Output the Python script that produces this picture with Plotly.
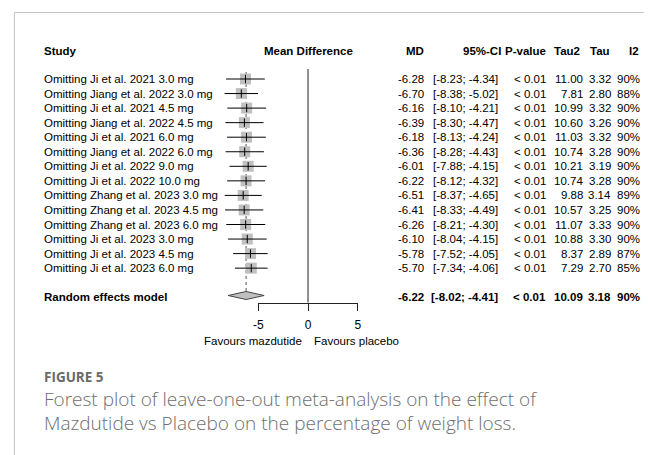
import plotly.graph_objects as go

# ---------------- data ----------------
studies = [
    "Omitting Ji et al. 2021 3.0 mg",
    "Omitting Jiang et al. 2022 3.0 mg",
    "Omitting Ji et al. 2021 4.5 mg",
    "Omitting Jiang et al. 2022 4.5 mg",
    "Omitting Ji et al. 2021 6.0 mg",
    "Omitting Jiang et al. 2022 6.0 mg",
    "Omitting Ji et al. 2022 9.0 mg",
    "Omitting Ji et al. 2022 10.0 mg",
    "Omitting Zhang et al. 2023 3.0 mg",
    "Omitting Zhang et al. 2023 4.5 mg",
    "Omitting Zhang et al. 2023 6.0 mg",
    "Omitting Ji et al. 2023 3.0 mg",
    "Omitting Ji et al. 2023 4.5 mg",
    "Omitting Ji et al. 2023 6.0 mg",
]
md = [-6.28, -6.70, -6.16, -6.39, -6.18, -6.36, -6.01, -6.22, -6.51, -6.41, -6.26, -6.10, -5.78, -5.70]
ci_low = [-8.23, -8.38, -8.10, -8.30, -8.13, -8.28, -7.88, -8.12, -8.37, -8.33, -8.21, -8.04, -7.52, -7.34]
ci_high = [-4.34, -5.02, -4.21, -4.47, -4.24, -4.43, -4.15, -4.32, -4.65, -4.49, -4.30, -4.15, -4.05, -4.06]
p_values = ["< 0.01"] * 14
tau2 = [11.00, 7.81, 10.99, 10.60, 11.03, 10.74, 10.21, 10.74, 9.88, 10.57, 11.07, 10.88, 8.37, 7.29]
tau = [3.32, 2.80, 3.32, 3.26, 3.32, 3.28, 3.19, 3.28, 3.14, 3.25, 3.33, 3.30, 2.89, 2.70]
i2 = [90, 88, 90, 90, 90, 90, 90, 90, 89, 90, 90, 90, 87, 85]

re_label = "Random effects model"
re_md, re_low, re_high = -6.22, -8.02, -4.41
re_p, re_tau2, re_tau, re_i2 = "< 0.01", 10.09, 3.18, 90

x_ticks = [-5, 0, 5]
fav_left = "Favours mazdutide"
fav_right = "Favours placebo"
headers = ["Study", "Mean Difference", "MD", "95%-CI", "P-value", "Tau2", "Tau", "I2"]
caption_title = "FIGURE 5"
caption_lines = ["Forest plot of leave-one-out meta-analysis on the effect of",
                 "Mazdutide vs Placebo on the percentage of weight loss."]

# ---------------- layout geometry (pixels) ----------------
W, H = 648, 455
ZERO_PX = 307.3
PX_PER_UNIT = 10.1
ROW0, ROW_STEP = 79.0, 14.55
RE_Y = 295.5
HEAD_Y = 51.0
AXIS_Y = 302.5

FONT = "Liberation Sans, Arial, sans-serif"
FS = 11.5
BLACK = "#000000"

def xdata(px):
    return (px - ZERO_PX) / PX_PER_UNIT

def pxp(px):
    return px / W

row_y = [ROW0 + ROW_STEP * i for i in range(len(studies))]

fig = go.Figure()

# dotted pooled-effect line
fig.add_trace(go.Scatter(x=[re_md, re_md], y=[72, RE_Y - 4], mode="lines",
                         line=dict(color="#555555", width=1, dash="dot"),
                         hoverinfo="skip", showlegend=False))
# zero line
fig.add_trace(go.Scatter(x=[0, 0], y=[69, AXIS_Y], mode="lines",
                         line=dict(color="#222222", width=1),
                         hoverinfo="skip", showlegend=False))

# squares
fig.add_trace(go.Scatter(x=md, y=row_y, mode="markers",
                         marker=dict(symbol="square", size=11, color="#c0c0c0",
                                     line=dict(width=0)),
                         hoverinfo="skip", showlegend=False))
# CI lines
cx, cy = [], []
for lo, hi, y in zip(ci_low, ci_high, row_y):
    cx += [lo, hi, None]
    cy += [y, y, None]
fig.add_trace(go.Scatter(x=cx, y=cy, mode="lines", line=dict(color=BLACK, width=1),
                         hoverinfo="skip", showlegend=False))
# estimate ticks
fig.add_trace(go.Scatter(x=md, y=row_y, mode="markers",
                         marker=dict(symbol="line-ns", size=6,
                                     line=dict(width=1, color=BLACK)),
                         hoverinfo="skip", showlegend=False))
# diamond
fig.add_trace(go.Scatter(x=[re_low, re_md, re_high, re_md, re_low],
                         y=[RE_Y, RE_Y - 4, RE_Y, RE_Y + 4, RE_Y],
                         mode="lines", fill="toself", fillcolor="#c0c0c0",
                         line=dict(color="#444444", width=1),
                         hoverinfo="skip", showlegend=False))

# page border (top and left edges of the figure frame)
fig.add_trace(go.Scatter(x=[xdata(W + 5), xdata(9.5), xdata(9.5)], y=[12.5, 12.5, H + 5],
                         mode="lines", line=dict(color="#c4c4c4", width=1),
                         hoverinfo="skip", showlegend=False, cliponaxis=False))

ann = []
def txt(x, y, s, anchor="left", bold=False, size=FS, color=BLACK, family=FONT, weight=None):
    f = dict(family=family, size=size, color=color)
    if weight is not None:
        f["weight"] = weight
    ann.append(dict(x=pxp(x), y=y, xref="paper", yref="y", text=("<b>%s</b>" % s) if bold else s,
                    showarrow=False, xanchor=anchor, yanchor="middle", font=f,
                    borderpad=0, borderwidth=0))

# headers
txt(40, HEAD_Y, headers[0], bold=True)
txt(ZERO_PX, HEAD_Y, headers[1], anchor="center", bold=True)
txt(425, HEAD_Y, headers[2], anchor="right", bold=True)
txt(503, HEAD_Y, headers[3], anchor="right", bold=True)
txt(548.5, HEAD_Y, headers[4], anchor="right", bold=True)
txt(583.5, HEAD_Y, headers[5], anchor="right", bold=True)
txt(613.5, HEAD_Y, headers[6], anchor="right", bold=True)
txt(643, HEAD_Y, headers[7], anchor="right", bold=True)

def row_text(y, name, m, lo, hi, p, t2, t, i, bold=False):
    txt(40, y, name, bold=bold)
    txt(425, y, "%.2f" % m, anchor="right", bold=bold)
    txt(499.5, y, "[%.2f; %.2f]" % (lo, hi), anchor="right", bold=bold)
    txt(548.5, y, p, anchor="right", bold=bold)
    txt(586.5, y, "%.2f" % t2, anchor="right", bold=bold)
    txt(614.5, y, "%.2f" % t, anchor="right", bold=bold)
    txt(643.5, y, "%d%%" % i, anchor="right", bold=bold)

for k in range(len(studies)):
    row_text(row_y[k], studies[k], md[k], ci_low[k], ci_high[k], p_values[k],
             tau2[k], tau[k], i2[k])
row_text(RE_Y + 1, re_label, re_md, re_low, re_high, re_p, re_tau2, re_tau, re_i2, bold=True)

# favours labels
txt(ZERO_PX - 6.5, 341, fav_left, anchor="right")
txt(ZERO_PX + 6, 341, fav_right, anchor="left")

# caption
GREY = "#6e6e6e"
txt(40, 377, caption_title, size=13.5, color="#6a6a6a", family="Open Sans, sans-serif", bold=True)
txt(40, 399, caption_lines[0], size=19, color=GREY, family="Open Sans, sans-serif", weight=300)
txt(40, 423, caption_lines[1], size=19, color=GREY, family="Open Sans, sans-serif", weight=300)

fig.update_layout(
    width=W, height=H, margin=dict(l=0, r=0, t=0, b=0),
    paper_bgcolor="white", plot_bgcolor="rgba(0,0,0,0)",
    xaxis=dict(range=[xdata(0), xdata(W)], visible=False, domain=[0, 1], fixedrange=True),
    xaxis2=dict(range=[x_ticks[0], x_ticks[-1]], anchor="free",
                domain=[pxp(ZERO_PX + x_ticks[0] * PX_PER_UNIT), pxp(ZERO_PX + x_ticks[-1] * PX_PER_UNIT)],
                position=1 - AXIS_Y / H, side="bottom",
                tickvals=x_ticks, ticktext=["%d" % v for v in x_ticks],
                showline=True, linecolor="#222222", linewidth=1,
                ticks="outside", ticklen=7, tickcolor="#222222", tickwidth=1,
                ticklabelstandoff=4,
                showgrid=False, zeroline=False, fixedrange=True,
                tickfont=dict(family=FONT, size=12, color=BLACK)),
    yaxis=dict(range=[H, 0], visible=False, domain=[0, 1], fixedrange=True),
    annotations=ann, showlegend=False,
)
# invisible trace to activate xaxis2
fig.add_trace(go.Scatter(x=[0], y=[-100], xaxis="x2", yaxis="y", mode="markers",
                         marker=dict(size=1, color="rgba(0,0,0,0)"), hoverinfo="skip",
                         showlegend=False))

fig.write_html("out.html", config={"displayModeBar": False},
               post_script="document.body.style.margin='0';")
